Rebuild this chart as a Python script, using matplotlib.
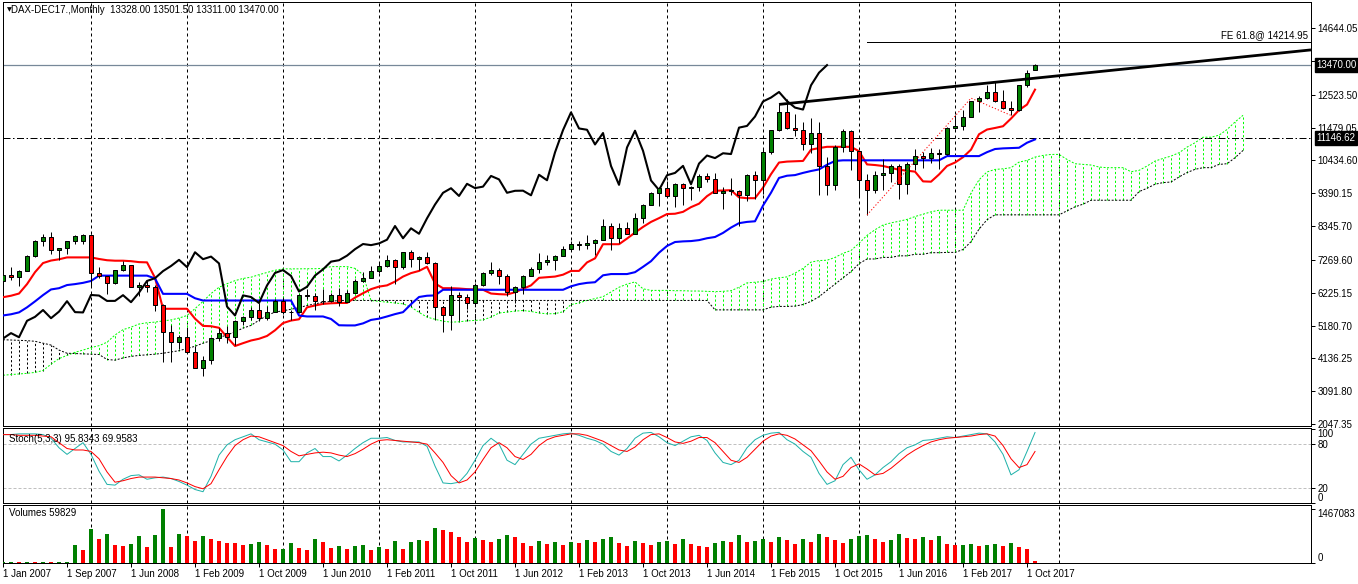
"""
DAX-DEC17 monthly chart with Ichimoku, Stochastic and Volumes (MT4 style)
"""
import matplotlib
matplotlib.use('Agg')
import matplotlib.pyplot as plt
import matplotlib.transforms as mtransforms
import numpy as np

plt.rcParams['font.family'] = ['Liberation Sans', 'DejaVu Sans']
plt.rcParams['font.size'] = 7

# ---------------------------------------------------------------- data
# monthly bars Jan 2007 .. Nov 2017 (Nov 2007 missing in the feed)
opens = [6614, 6789, 6716, 6917, 7409, 7883, 8007, 7584, 7638, 7862,
         7871, 8067, 6851, 6748, 6535, 6949, 7097, 6418, 6479, 6422,
         5831, 4988, 4669, 4810, 4338, 3843, 4085, 4769, 4940, 4809,
         5332, 5458, 5675, 5415, 5625, 5957, 5608, 5598, 6154, 6136,
         5965, 5966, 6148, 5925, 6229, 6601, 6688, 6914, 7077, 7272,
         7041, 7514, 7294, 7376, 7159, 5785, 5502, 6141, 6089, 5898,
         6458, 6856, 6947, 6761, 6264, 6416, 6772, 6970, 7216, 7260,
         7406, 7612, 7776, 7741, 7795, 7914, 8349, 7959, 8276, 8103,
         8594, 9033, 9406, 9552, 9306, 9692, 9556, 9603, 9943, 9833,
         9407, 9470, 9474, 9327, 9980, 9806, 10694, 11402, 11966, 11454,
         11413, 10945, 11309, 10259, 9660, 10850, 11382, 10743, 9798, 9495,
         9966, 10039, 10263, 9680, 10337, 10593, 10511, 10665, 10640, 11481,
         11535, 11834, 12313, 12438, 12615, 12325, 12118, 12056, 12829, 13328]
highs = [6830, 7040, 6938, 7431, 7900, 8090, 8151, 7640, 7880, 8070,
         8100, 8100, 7060, 6760, 6960, 7230, 7100, 6560, 6630, 6460,
         5880, 5210, 4890, 5110, 4530, 4210, 4830, 5100, 5160, 5350,
         5500, 5760, 5890, 5810, 6030, 6100, 5680, 6190, 6340, 6230,
         6330, 6220, 6390, 6320, 6650, 6880, 7080, 7180, 7440, 7310,
         7530, 7600, 7390, 7525, 7200, 5800, 6430, 6240, 6200, 6530,
         6900, 7190, 7000, 6810, 6450, 6800, 7030, 7480, 7420, 7420,
         7700, 7870, 7880, 8060, 7940, 8560, 8440, 8460, 8470, 8770,
         9060, 9430, 9590, 9790, 9720, 9720, 9620, 10000, 10050, 10030,
         9580, 9890, 9480, 9990, 10090, 10810, 11410, 12220, 12390, 11920,
         11650, 11800, 11670, 10540, 10930, 11430, 11420, 10750, 9990, 10100,
         10480, 10330, 10330, 10400, 10800, 10690, 10830, 10800, 11490, 11890,
         12030, 12330, 12480, 12840, 12950, 12680, 12330, 12840, 13320, 13501.5]
lows = [6574, 6630, 6437, 6910, 7360, 7720, 7470, 7260, 7450, 7770,
        7790, 6440, 6680, 6170, 6510, 6930, 6400, 6120, 6260, 5650,
        4015, 4010, 4430, 4300, 3830, 3589, 3960, 4690, 4620, 4575,
        5190, 5370, 5320, 5360, 5610, 5540, 5350, 5590, 6020, 5670,
        5860, 5930, 5800, 5920, 6210, 6560, 6680, 6860, 7060, 6510,
        6990, 7040, 6940, 7150, 5350, 4965, 5050, 5370, 5700, 5890,
        6450, 6790, 6500, 6130, 5910, 6190, 6760, 6860, 7100, 6950,
        7400, 7600, 7580, 7620, 7420, 7900, 7600, 7810, 8100, 8090,
        8460, 9030, 9000, 9280, 8950, 9020, 9170, 9450, 9750, 9400,
        8900, 9330, 8355, 9150, 9220, 9380, 10650, 11370, 11450, 11220,
        10780, 10670, 9340, 9340, 9480, 10720, 10130, 9310, 8700, 9410,
        9480, 9740, 9210, 9380, 10140, 10190, 10360, 10170, 10610, 11450,
        11420, 11830, 11990, 12400, 12310, 12080, 11870, 12000, 12780, 13311]
closes = [6789, 6716, 6917, 7409, 7883, 8007, 7584, 7638, 7862, 8020,
          8067, 6851, 6748, 6535, 6949, 7097, 6418, 6479, 6422, 5831,
          4988, 4669, 4810, 4338, 3843, 4085, 4769, 4940, 4809, 5332,
          5458, 5675, 5415, 5625, 5957, 5608, 5598, 6154, 6136, 5965,
          5966, 6148, 5925, 6229, 6601, 6688, 6914, 7077, 7272, 7041,
          7514, 7294, 7376, 7159, 5785, 5502, 6141, 6089, 5898, 6458,
          6856, 6947, 6761, 6264, 6416, 6772, 6970, 7216, 7260, 7406,
          7612, 7776, 7741, 7795, 7914, 8349, 7959, 8276, 8103, 8594,
          9033, 9406, 9552, 9306, 9692, 9556, 9603, 9943, 9833, 9407,
          9470, 9474, 9327, 9980, 9806, 10694, 11402, 11966, 11454, 11413,
          10945, 11309, 10259, 9660, 10850, 11382, 10743, 9798, 9495, 9966,
          10039, 10263, 9680, 10337, 10593, 10511, 10665, 10640, 11481, 11535,
          11834, 12313, 12438, 12615, 12325, 12118, 12056, 12829, 13230, 13470]

tenkan = [6083, 6130, 6200, 6500, 6880, 7170, 7250, 7290, 7350, 7350,
          7350, 7350, 7300, 7260, 7245, 7245, 7230, 7200, 7192, 6700,
          5715, 5715, 5715, 5715, 5400, 5170, 5160, 5110, 4810, 4530,
          4620, 4705, 4760, 4850, 5030, 5260, 5340, 5380, 5760, 5820,
          5870, 5890, 5900, 5900, 6070, 6210, 6340, 6420, 6460, 6580,
          6740, 6850, 6920, 7050, 6520, 6370, 6370, 6360, 6340, 6330,
          6320, 6200, 6180, 6170, 6240, 6350, 6460, 6700, 6720, 6740,
          6800, 6920, 6920, 7190, 7320, 7770, 7770, 7770, 7950, 8140,
          8320, 8480, 8600, 8730, 8740, 8800, 8950, 9060, 9300, 9470,
          9480, 9490, 9260, 9235, 9235, 9570, 10000, 10370, 10400, 10410,
          10420, 10780, 10830, 10870, 10870, 10870, 10870, 10730, 10310, 10290,
          10260, 10200, 10140, 10110, 10080, 9770, 9760, 9990, 10260, 10370,
          10540, 10780, 11270, 11420, 11470, 11525, 11770, 12040, 12215, 12690]
kijun = [5502, 5540, 5600, 5760, 5950, 6150, 6330, 6370, 6470, 6500,
         6540, 6600, 6770, 6770, 6770, 6770, 6770, 6770, 6770, 6680,
         6190, 6190, 6190, 6190, 6050, 5978, 5978, 5978, 5978, 5978,
         5978, 5978, 5978, 5978, 5978, 5978, 5978, 5500, 5470, 5470,
         5470, 5390, 5190, 5185, 5185, 5250, 5360, 5400, 5470, 5545,
         5607, 5860, 6090, 6130, 6140, 6320, 6320, 6320, 6320, 6320,
         6320, 6320, 6320, 6320, 6320, 6320, 6320, 6320, 6320, 6320,
         6320, 6430, 6500, 6540, 6560, 6780, 6820, 6820, 6820, 6880,
         7050, 7230, 7500, 7715, 7840, 7860, 7870, 7900, 7960, 8000,
         8130, 8300, 8440, 8480, 8500, 9000, 9410, 9880, 9950, 9970,
         10040, 10100, 10150, 10300, 10420, 10440, 10440, 10440, 10440, 10440,
         10440, 10440, 10440, 10440, 10440, 10440, 10440, 10440, 10575, 10575,
         10575, 10575, 10575, 10700, 10800, 10820, 10830, 10840, 11000, 11105]
# cloud runs 26 bars past the last candle
senkou_a = [3600, 3620, 3640, 3660, 3690, 3750, 3950, 4130, 4230, 4330,
            4400, 4480, 4540, 4650, 4880, 5050, 5130, 5230, 5270, 5290,
            5330, 5360, 5420, 5500, 5720, 5950, 6200, 6400, 6513, 6610,
            6680, 6720, 6800, 6870, 6940, 6985, 6985, 6985, 6990, 6990,
            7000, 7057, 7057, 7057, 7000, 6800, 5978, 5950, 5925, 5900,
            5872, 5770, 5600, 5450, 5380, 5320, 5290, 5300, 5330, 5345,
            5360, 5450, 5580, 5610, 5640, 5660, 5630, 5580, 5555, 5560,
            5620, 5850, 5900, 5980, 6040, 6100, 6250, 6400, 6500, 6570,
            6350, 6300, 6300, 6300, 6290, 6290, 6280, 6280, 6270, 6260,
            6270, 6290, 6400, 6540, 6560, 6580, 6660, 6700, 6730, 6850,
            7000, 7200, 7250, 7260, 7350, 7480, 7570, 7800, 8050, 8230,
            8380, 8450, 8500, 8560, 8650, 8725, 8800, 8852, 8852, 8852,
            8852, 9400, 9820, 10070, 10150, 10170, 10206, 10384, 10437, 10543,
            10596, 10628, 10628, 10469, 10332, 10310, 10290, 10226, 10206, 10206,
            10206, 10077, 10120, 10258, 10416, 10500, 10575, 10680, 10860, 11000,
            11176, 11176, 11240, 11420, 11660, 11873]
senkou_b = [4730, 4720, 4710, 4700, 4680, 4620, 4560, 4400, 4300, 4290,
            4280, 4270, 4260, 4100, 4080, 4150, 4200, 4230, 4250, 4270,
            4300, 4340, 4380, 4450, 4520, 4620, 4700, 4800, 4880, 4980,
            5100, 5185, 5350, 5500, 5610, 5650, 5700, 5750, 5820, 5870,
            5925, 5950, 5980, 5980, 5980, 5980, 5980, 5980, 5980, 5980,
            5980, 5980, 5980, 5980, 5980, 5980, 5980, 5980, 5980, 5980,
            5980, 5980, 5980, 5980, 5980, 5980, 5980, 5980, 5980, 5980,
            5980, 5980, 5980, 5980, 5980, 5980, 5980, 5980, 5980, 5980,
            5980, 5980, 5980, 5980, 5980, 5980, 5980, 5980, 5980, 5680,
            5680, 5680, 5680, 5680, 5680, 5680, 5765, 5790, 5790, 5800,
            5850, 5950, 6100, 6300, 6500, 6700, 6900, 7150, 7300, 7300,
            7350, 7350, 7400, 7400, 7450, 7450, 7500, 7500, 7510, 7510,
            7600, 7850, 8250, 8550, 8705, 8705, 8705, 8705, 8705, 8705,
            8705, 8705, 8705, 8832, 8960, 9044, 9170, 9170, 9170, 9170,
            9170, 9170, 9443, 9550, 9680, 9730, 9750, 9910, 10050, 10153,
            10206, 10206, 10310, 10332, 10522, 10755]

stoch_k = [93, 93, 94, 94, 94, 93, 88, 75, 66, 74,
           82, 66, 43, 25, 24, 32, 37, 38, 32, 34,
           35, 33, 29, 24, 18, 15, 36, 65, 79, 86,
           90, 94, 86, 83, 80, 72, 56, 56, 68, 74,
           63, 63, 57, 65, 74, 82, 88, 88, 89, 85,
           83, 83, 83, 77, 50, 27, 26, 28, 40, 58,
           78, 88, 80, 58, 52, 66, 80, 88, 90, 92,
           94, 95, 92, 88, 85, 80, 70, 65, 74, 88,
           95, 96, 90, 82, 78, 84, 90, 92, 85, 68,
           55, 52, 58, 75, 86, 92, 95, 96, 86, 80,
           70, 62, 40, 25, 30, 52, 62, 45, 32, 38,
           48, 56, 67, 75, 79, 85, 86, 88, 90, 89,
           91, 93, 95, 94, 83, 66, 38, 45, 70, 95.8343]
stoch_d = [93, 93, 92, 92, 92, 91, 90, 82, 74, 72,
           72, 70, 60, 42, 28, 30, 33, 35, 35, 35,
           34, 33, 31, 27, 22, 19, 26, 45, 63, 78,
           86, 91, 90, 86, 82, 78, 70, 64, 66, 68,
           69, 68, 65, 63, 67, 73, 80, 85, 86, 85,
           84, 83, 82, 80, 68, 55, 37, 27, 31, 42,
           59, 75, 82, 75, 63, 59, 66, 78, 86, 90,
           92, 94, 94, 92, 88, 84, 78, 72, 70, 76,
           86, 93, 94, 89, 83, 81, 84, 89, 89, 82,
           70, 58, 55, 62, 73, 84, 91, 94, 92, 87,
           79, 71, 57, 42, 32, 36, 48, 53, 46, 38,
           40, 47, 56, 65, 72, 78, 83, 86, 88, 89,
           90, 91, 93, 94, 91, 78, 60, 48, 52, 69.9583]

volumes = [12000, 20000, 15000, 22000, 18000, 25000, 20000, 24000, 30000, 486000,
           349000, 926000, 651000, 788000, 486000, 459000, 514000, 733000, 431000, 761000,
           1467083, 431000, 788000, 733000, 596000, 733000, 651000, 596000, 541000, 535000,
           486000, 514000, 569000, 486000, 370000, 380000, 541000, 404000, 349000, 651000,
           569000, 404000, 459000, 376000, 459000, 486000, 349000, 431000, 376000, 596000,
           376000, 569000, 624000, 596000, 953000, 898000, 843000, 700000, 560000, 690000,
           620000, 580000, 650000, 760000, 700000, 540000, 470000, 600000, 520000, 560000,
           480000, 580000, 530000, 620000, 560000, 640000, 700000, 540000, 460000, 600000,
           540000, 480000, 560000, 600000, 520000, 640000, 510000, 470000, 430000, 540000,
           600000, 560000, 760000, 560000, 600000, 640000, 560000, 700000, 620000, 520000,
           660000, 580000, 780000, 700000, 620000, 540000, 640000, 720000, 760000, 640000,
           560000, 620000, 788000, 670000, 651000, 706000, 624000, 733000, 514000, 486000,
           490000, 514000, 459000, 486000, 514000, 459000, 541000, 431000, 376000, 59829]

date_labels = ['1 Jan 2007', '1 Sep 2007', '1 Jun 2008', '1 Feb 2009', '1 Oct 2009',
               '1 Jun 2010', '1 Feb 2011', '1 Oct 2011', '1 Jun 2012', '1 Feb 2013',
               '1 Oct 2013', '1 Jun 2014', '1 Feb 2015', '1 Oct 2015', '1 Jun 2016',
               '1 Feb 2017', '1 Oct 2017']
price_ticks = [2047.35, 3091.80, 4136.25, 5180.70, 6225.15, 7269.60, 8345.70,
               9390.15, 10434.60, 11479.05, 12523.50, 13590.60, 14644.05]
grid_bars = [11, 23, 35, 47, 59, 71, 83, 95, 107, 119, 132]

# drawn objects
hline_level = 11146.62
trend_x = [97, 163.5]
trend_y = [12220, 13955]
fe_level = 14214.95
fe_start = 108
fe_x = [108, 121, 126]
fe_y = [8700, 12420, 11870]

PX = 0.72  # one pixel in points at dpi 100
GREEN = '#008000'
RED = '#FF0000'


def add_grid(ax):
    for g in grid_bars:
        ax.axvline(g, color='black', lw=PX, ls=(0, (3, 3)), zorder=0.6)


def style_frame(ax):
    for sp in ax.spines.values():
        sp.set_color('black')
        sp.set_linewidth(PX)
    ax.yaxis.tick_right()
    ax.tick_params(axis='y', direction='out', length=3, width=PX, pad=2,
                   labelsize=7, colors='black')
    ax.tick_params(axis='x', bottom=False, labelbottom=False)


def main():
    W, H = 1358, 584
    fig = plt.figure(figsize=(W / 100, H / 100), dpi=100, facecolor='white')

    left, right = 2.7 / W, 1310.7 / W
    width = right - left

    def frac(top_px, bot_px):
        return [left, 1 - bot_px / H, width, (bot_px - top_px) / H]

    ax = fig.add_axes(frac(1.7, 426))
    ax2 = fig.add_axes(frac(428.3, 502.7), sharex=ax)
    ax3 = fig.add_axes(frac(505, 562.7), sharex=ax)

    n = len(closes)
    x = np.arange(n)
    o = np.array(opens, float)
    c = np.array(closes, float)

    # ---------------------------------------------------- main panel
    ax.set_xlim(-0.04, 163.46)
    ax.set_ylim(1983.7, 15489)
    add_grid(ax)

    a = np.array(senkou_a, float)
    b = np.array(senkou_b, float)
    xc = np.arange(len(a))
    hcol = ['#00FF00' if a[i] >= b[i] else 'black' for i in range(len(a))]
    ax.vlines(xc, np.minimum(a, b), np.maximum(a, b), colors=hcol,
              linestyles=(0, (2.2, 2.2)), lw=PX, zorder=1)
    ax.plot(xc, a, color='#00FF00', lw=PX, ls=(0, (2, 1.6)), zorder=1.2)
    ax.plot(xc, b, color='black', lw=PX, ls=(0, (2, 1.6)), zorder=1.2)

    ax.plot(x, tenkan, color=RED, lw=1.5, zorder=3)
    ax.plot(x, kijun, color='#0000FF', lw=1.5, zorder=3)
    ax.plot(x - 26, closes, color='black', lw=1.5, zorder=3)

    # candles
    ax.vlines(x, lows, highs, color='black', lw=PX, zorder=4)
    body_h = np.maximum(np.abs(c - o), 12)
    ccol = [GREEN if c[i] >= o[i] else RED for i in range(n)]
    ax.bar(x, body_h, bottom=np.minimum(o, c), width=0.58, color=ccol,
           edgecolor='black', linewidth=PX, zorder=5)

    # objects
    ax.axhline(closes[-1], color='#778899', lw=0.9, zorder=2)
    ax.axhline(hline_level, color='black', lw=PX, ls=(0, (7, 2.5, 1.5, 2.5)), zorder=2)
    ax.plot(trend_x, trend_y, color='black', lw=2.0, zorder=6, solid_capstyle='butt')
    ax.plot([fe_start, 163.46], [fe_level, fe_level], color='black', lw=PX, zorder=6)
    ax.text(163.1, fe_level + 60, f'FE 61.8@ {fe_level:.2f}', ha='right', va='bottom',
            fontsize=7, color='black', zorder=7)
    ax.plot(fe_x, fe_y, color=RED, lw=PX, ls=(0, (1.2, 2.0)), zorder=6)

    style_frame(ax)
    ax.set_yticks(price_ticks)
    # the 13590.60 label sits under the current-price box, so only its tick shows
    ax.set_yticklabels(['' if v == 13590.60 else f'{v:.2f}' for v in price_ticks])

    trans = mtransforms.blended_transform_factory(ax.transAxes, ax.transData)
    for lvl in (closes[-1], hline_level):
        ax.text(1.0045, lvl, f'{lvl:.2f}', transform=trans, color='white', fontsize=7,
                ha='left', va='center', clip_on=False, zorder=10,
                bbox=dict(boxstyle='square,pad=0.18', fc='black', ec='black'))

    ax.text(0.0032, 0.981, '\u25bc', transform=ax.transAxes, fontsize=4.5,
            family='DejaVu Sans', ha='left', va='center')
    ax.text(0.0062, 0.981,
            'DAX-DEC17.,Monthly  13328.00 13501.50 13311.00 13470.00',
            transform=ax.transAxes, fontsize=7, ha='left', va='center', zorder=8)

    # ---------------------------------------------------- stochastic
    ax2.set_ylim(0, 101.6)
    add_grid(ax2)
    for lvl in (20, 80):
        ax2.axhline(lvl, color='#C0C0C0', lw=PX, ls=(0, (3, 2)), zorder=1)
    ax2.plot(x, stoch_k, color='#20B2AA', lw=PX, zorder=3)
    ax2.plot(x, stoch_d, color=RED, lw=PX, zorder=3)
    style_frame(ax2)
    ax2.set_yticks([100, 80, 20, 0])
    ax2.set_yticklabels(['100', '80', '20', '0'])
    labs = ax2.get_yticklabels()
    labs[0].set_va('top')
    labs[3].set_va('bottom')
    ax2.text(0.0047, 0.86, f'Stoch(5,3,3) {stoch_k[-1]:.4f} {stoch_d[-1]:.4f}',
             transform=ax2.transAxes, fontsize=7, ha='left', va='center', zorder=8)

    # ---------------------------------------------------- volumes
    ax3.set_ylim(0, 1585000)
    add_grid(ax3)
    vcol = [GREEN] + [GREEN if volumes[i] > volumes[i - 1] else RED for i in range(1, n)]
    ax3.bar(x, volumes, width=0.56, color=vcol, linewidth=0, zorder=3)
    style_frame(ax3)
    ax3.set_yticks([1467083, 0])
    ax3.set_yticklabels(['1467083', '0'])
    vl = ax3.get_yticklabels()
    vl[0].set_va('top')
    vl[1].set_va('bottom')
    ax3.text(0.0047, 0.86, f'Volumes {volumes[-1]}', transform=ax3.transAxes,
             fontsize=7, ha='left', va='center', zorder=8)

    ax3.tick_params(axis='x', bottom=True, labelbottom=True, direction='out',
                    length=3, width=PX, pad=1.5, labelsize=7)
    ax3.set_xticks(np.arange(0, n, 8))
    ax3.set_xticklabels(date_labels)
    for lbl in ax3.get_xticklabels():
        lbl.set_ha('left')

    fig.savefig('out.png', dpi=100, facecolor='white')
    plt.close(fig)


if __name__ == '__main__':
    main()
